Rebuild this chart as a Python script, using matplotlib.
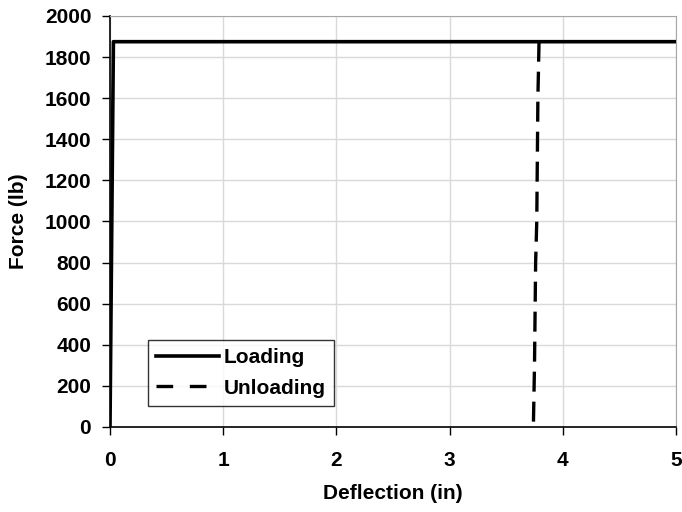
import matplotlib
matplotlib.use('Agg')
import matplotlib.pyplot as plt
from matplotlib.lines import Line2D

# Loading / unloading curves (deflection in, force lb)
load_x = [0.0, 0.03, 5.0]
load_y = [0, 1875, 1875]
unload_x = [3.79, 3.78, 3.77, 3.76, 3.75, 3.74]
unload_y = [1875, 1600, 1000, 800, 300, 0]

plt.rcParams['font.family'] = ['Liberation Sans', 'DejaVu Sans']
plt.rcParams['font.weight'] = 'bold'

fig = plt.figure(figsize=(6.82, 5.12), dpi=100)
ax = fig.add_axes([110/682, 85/512, 566/682, 411/512])

ax.plot(load_x, load_y, color='k', linewidth=2.6, solid_capstyle='butt')
ax.plot(unload_x, unload_y, color='k', linewidth=2.4, linestyle=(0, (6, 3)))

ax.set_xlim(0, 5)
ax.set_ylim(0, 2000)
ax.set_xticks(range(0, 6))
ax.set_yticks(range(0, 2001, 200))
ax.grid(axis='both', color='#d9d9d9', linewidth=1)
ax.set_axisbelow(True)
ax.tick_params(direction='out', length=5.5, labelsize=15, width=1)
ax.tick_params(axis='x', pad=12)
ax.tick_params(axis='y', pad=8)
ax.spines['top'].set_color('#a6a6a6')
ax.spines['right'].set_color('#a6a6a6')
ax.spines['left'].set_linewidth(1.2)
ax.spines['bottom'].set_linewidth(1.2)

ax.set_xlabel('Deflection (in)', fontsize=15, fontweight='bold', labelpad=10)
ax.set_ylabel('Force (lb)', fontsize=15, fontweight='bold', labelpad=12)

handles = [Line2D([], [], color='k', linewidth=2.6),
           Line2D([], [], color='k', linewidth=2.4, linestyle=(0, (5, 5)))]
leg = ax.legend(handles, ['Loading', 'Unloading'], loc='lower left',
                bbox_to_anchor=(0.067, 0.051), borderaxespad=0, fontsize=15,
                frameon=True, fancybox=False, edgecolor='k', handlelength=3.0,
                borderpad=0.4, handletextpad=0.25, labelspacing=0.55)
leg.get_frame().set_linewidth(1)

fig.savefig('out.png', dpi=100)
